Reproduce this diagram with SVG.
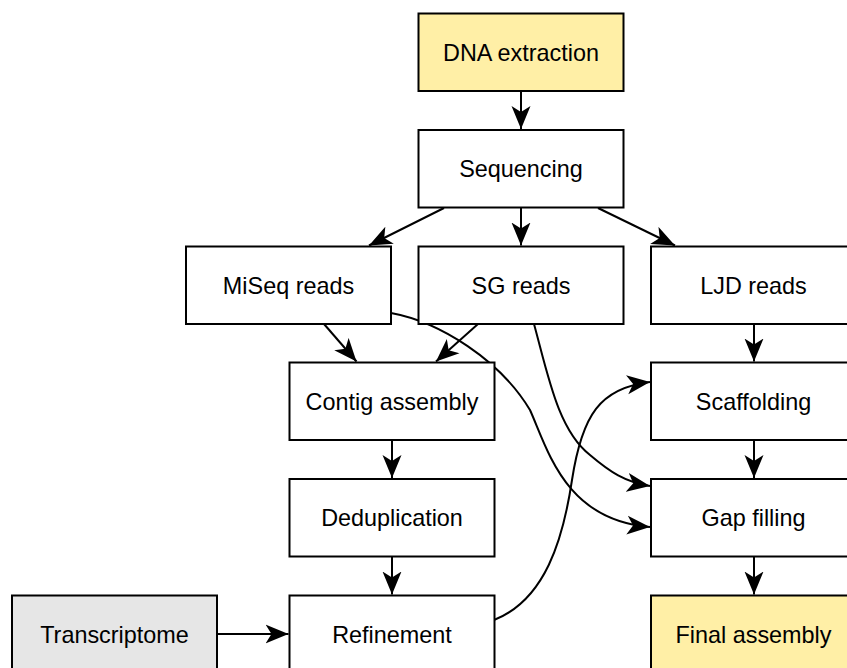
<svg xmlns="http://www.w3.org/2000/svg" width="847" height="668" viewBox="0 0 847 668">
<style>
.box{stroke:#000;stroke-width:2;fill:#fff}
.y{fill:#ffefa6}
.g{fill:#e6e6e6}
text{font-family:"Liberation Sans",Arial,sans-serif;font-size:23.4px;fill:#000;text-anchor:middle}
.e{fill:none;stroke:#000;stroke-width:2;marker-end:url(#ah)}
</style>
<defs>
<marker id="ah" viewBox="0 0 24 20" refX="23" refY="10" markerWidth="24" markerHeight="20" markerUnits="userSpaceOnUse" orient="auto">
<path d="M0,0.5 L23,10 L0,19.5 L6,10 z" fill="#000"/>
</marker>
</defs>
<rect width="847" height="668" fill="#fff"/>
<g id="edges">
<path class="e" d="M521,91 L521,129"/>
<path class="e" d="M444,208 L369,245.5"/>
<path class="e" d="M521,207 L521,245.5"/>
<path class="e" d="M598,208 L675,245.5"/>
<path class="e" d="M324,324 L356.5,361.5"/>
<path class="e" d="M478,324 L436,361.5"/>
<path class="e" d="M754,324 L754,361.5"/>
<path class="e" d="M392,440 L392,478"/>
<path class="e" d="M392,556.5 L392,594.5"/>
<path class="e" d="M754,440 L754,478"/>
<path class="e" d="M754,556.5 L754,594.5"/>
<path class="e" d="M217,634 L288.5,634"/>
<path class="e" d="M391,313 C440,322 500,360 530,410 C548,450 565,520 650,527"/>
<path class="e" d="M534,324 C548,375 558,430 590,455 C610,472 625,482 650,486"/>
<path class="e" d="M494,620 C545,600 563,540 572,480 C582,415 600,388 650,382"/>
</g>
<g id="dna"><rect class="box y" x="418.5" y="13.5" width="205" height="77.5"/><text x="521" y="61">DNA extraction</text></g>
<g id="seq"><rect class="box" x="418.5" y="130" width="205" height="77.5"/><text x="521" y="177">Sequencing</text></g>
<g id="miseq"><rect class="box" x="186" y="246.5" width="205" height="77.5"/><text x="288.5" y="294">MiSeq reads</text></g>
<g id="sg"><rect class="box" x="418.5" y="246.5" width="205" height="77.5"/><text x="521" y="294">SG reads</text></g>
<g id="ljd"><rect class="box" x="651" y="246.5" width="205" height="77.5"/><text x="753.5" y="294">LJD reads</text></g>
<g id="contig"><rect class="box" x="289.5" y="362.5" width="205" height="77.5"/><text x="392" y="410">Contig assembly</text></g>
<g id="scaff"><rect class="box" x="651" y="362.5" width="205" height="77.5"/><text x="753.5" y="410">Scaffolding</text></g>
<g id="dedup"><rect class="box" x="289.5" y="479" width="205" height="77.5"/><text x="392" y="526">Deduplication</text></g>
<g id="gap"><rect class="box" x="651" y="479" width="205" height="77.5"/><text x="753.5" y="526">Gap filling</text></g>
<g id="trans"><rect class="box g" x="12" y="595.5" width="205" height="77.5"/><text x="114.5" y="643">Transcriptome</text></g>
<g id="refine"><rect class="box" x="289.5" y="595.5" width="205" height="77.5"/><text x="392" y="643">Refinement</text></g>
<g id="final"><rect class="box y" x="651" y="595.5" width="205" height="77.5"/><text x="753.5" y="643">Final assembly</text></g>
</svg>
